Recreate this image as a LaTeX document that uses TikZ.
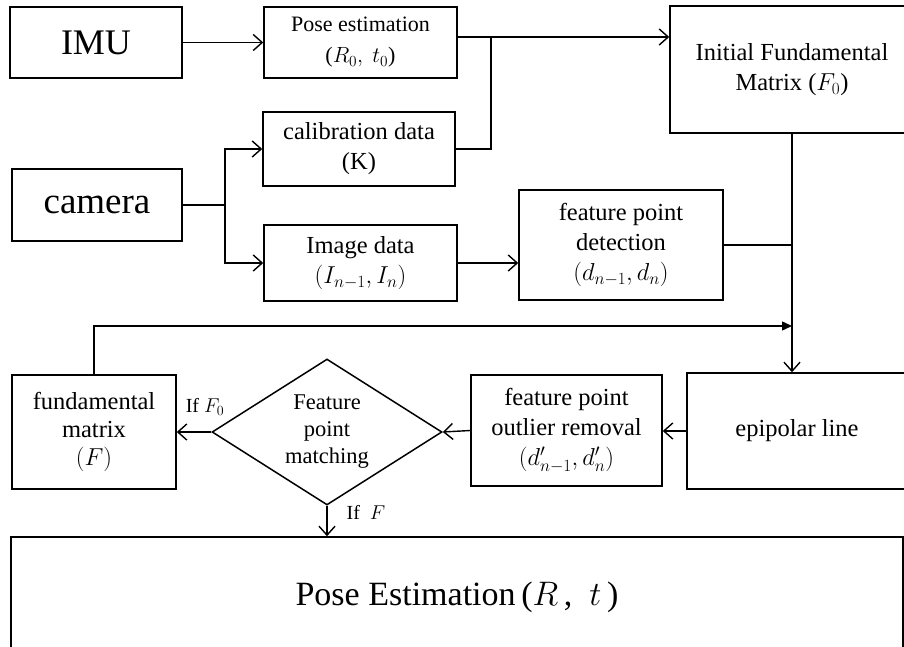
\RequirePackage{fix-cm}
\documentclass[tikz,border=0pt]{standalone}
\usepackage{fontspec}
\setmainfont{Liberation Serif}
\usetikzlibrary{arrows.meta,shapes.geometric}
\begin{document}
\begin{tikzpicture}[x=1pt,y=-1pt,
  box/.style={draw,line width=1.5pt,inner sep=0pt,align=center,font=\fontsize{24.5}{30}\selectfont},
  arr/.style={line width=1.4pt,-{Straight Barb[length=9pt,width=16pt]}},
  farr/.style={line width=1.4pt,-{Triangle[length=10pt,width=9pt]}},
  ln/.style={line width=1.4pt},
  lbl/.style={inner sep=0pt,font=\fontsize{20}{22}\selectfont}]
\useasboundingbox (0,0) rectangle (904,647);
\clip (0,0) rectangle (904,647);
% boxes
\node[box,minimum width=172pt,minimum height=71pt,font=\fontsize{36}{40}\selectfont] (imu) at (96,42.5) {IMU};
\node[box,minimum width=193pt,minimum height=71pt,font=\fontsize{22}{31}\selectfont] (pose0) at (360.5,42.5) {Pose estimation\\($R_0,\ t_0$)};
\node[box,minimum width=192pt,minimum height=74pt] (calib) at (359,149) {calibration data\\(K)};
\node[box,minimum width=170pt,minimum height=72pt,font=\fontsize{37}{40}\selectfont] (camera) at (97,205) {camera};
\node[box,minimum width=193pt,minimum height=76pt] (image) at (360.5,263) {Image data\\$(I_{n-1}, I_n)$};
\node[box,minimum width=204pt,minimum height=110pt] (detect) at (621,245) {feature point\\detection\\$(d_{n-1}, d_n)$};
\node[box,minimum width=244pt,minimum height=127pt] (init) at (792,69.5) {Initial Fundamental\\Matrix ($F_0$)};
\node[box,minimum width=220pt,minimum height=116pt] (epi) at (797,431) {epipolar line};
\node[box,minimum width=191pt,minimum height=111pt] (outl) at (566.5,430.5) {feature point\\outlier removal\\$(d'_{n-1}, d'_n)$};
\node[box,diamond,aspect=1.575,minimum width=230pt,minimum height=146pt,font=\fontsize{22.5}{27}\selectfont] (dia) at (327,432) {Feature\\point\\matching};
\node[box,minimum width=164pt,minimum height=114pt,font=\fontsize{24.5}{28}\selectfont] (fund) at (94,432) {fundamental\\matrix\\$(F)$};
\node[box,minimum width=892pt,minimum height=120pt,font=\fontsize{34}{38}\selectfont] (bot) at (457,597) {Pose Estimation\,($R$\,,\ \ $t$\,)};
% labels
\node[lbl] (lf0) at (205,407) {If $F_0$};
\node[lbl] (lf) at (366,512) {If\ \ $F$};
% junctions
\coordinate (j1) at (491,37);
\coordinate (j2) at (225,205);
\coordinate (fb) at (792,326);
% connectors
\draw[arr] (imu.east) -- (pose0.west);
\draw[arr] (pose0.east |- j1) -- (init.west |- j1);
\draw[ln] (calib.east) -- (j1 |- calib.east) -- (j1);
\draw[arr] (camera.east) -- (j2) |- (calib.west);
\draw[arr] (j2) |- (image.west);
\draw[arr] (image.east) -- (detect.west |- image.east);
\draw[arr] (init.south) -- (init.south |- epi.north);
\draw[ln] (detect.east) -- (init.south |- detect.east);
\draw[farr] (fund.north) |- (fb);
\draw[arr] (epi.west) -- (outl.east |- epi.west);
\draw[arr] (outl.west) -- (dia.east);
\draw[arr] (dia.west) -- (fund.east);
\draw[arr] (dia.south) -- (dia.south |- bot.north);
\end{tikzpicture}
\end{document}
